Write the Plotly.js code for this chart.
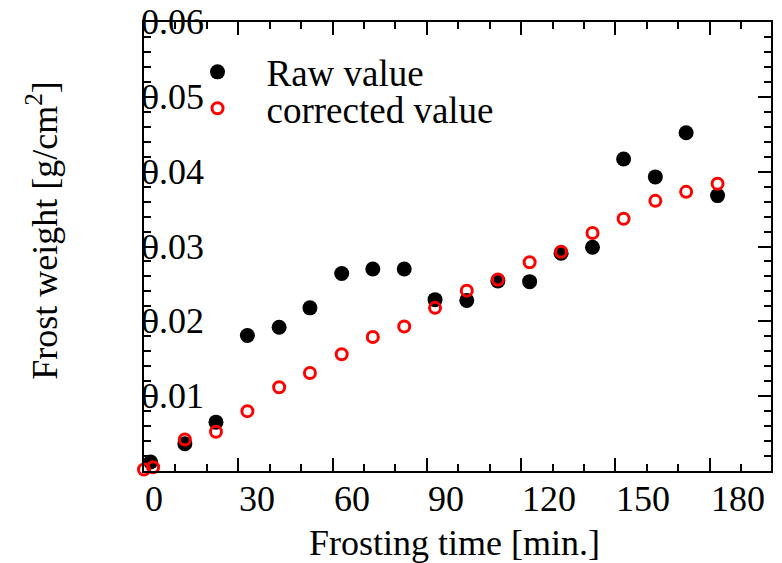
<!DOCTYPE html>
<html>
<head>
<meta charset="utf-8">
<script src="https://cdn.plot.ly/plotly-3.0.1.min.js"></script>
<style>html,body{margin:0;padding:0;background:#fff;}#chart{width:782px;height:563px;}</style>
</head>
<body>
<div id="chart"></div>
<script>
// Frosting time [min.] and frost weight [g/cm^2]
var rawTime = [2.1, 13.0, 22.9, 32.9, 43.0, 52.8, 62.9, 72.8, 82.8, 92.6, 102.7, 112.6, 122.7, 132.7, 142.7, 152.6, 162.7, 172.5, 182.5];
var rawWeight = [0.0012, 0.00365, 0.00653, 0.0181, 0.0192, 0.0218, 0.0264, 0.0270, 0.0270, 0.0229, 0.0228, 0.0254, 0.0253, 0.0291, 0.0299, 0.0417, 0.0393, 0.0452, 0.0368];
var corrTime = [0.0, 2.9, 13.0, 22.9, 32.9, 43.0, 52.8, 62.9, 72.8, 82.8, 92.6, 102.7, 112.6, 122.7, 132.7, 142.7, 152.6, 162.7, 172.5, 182.5];
var corrWeight = [0.0002, 0.0005, 0.0042, 0.00525, 0.0080, 0.0112, 0.0131, 0.0156, 0.0179, 0.0193, 0.0218, 0.0241, 0.0256, 0.0279, 0.0293, 0.0318, 0.0337, 0.0361, 0.0373, 0.0384];
var seriesNames = ["Raw value", "corrected value"];
var xTickVals = [0, 30, 60, 90, 120, 150, 180];
var xTickText = ["0", "30", "60", "90", "120", "150", "180"];
var yTickVals = [0.01, 0.02, 0.03, 0.04, 0.05, 0.06];
var yTickText = ["0.01", "0.02", "0.03", "0.04", "0.05", "0.06"];
var xTitle = "Frosting time [min.]";
var yTitle = "Frost weight [g/cm<sup>2</sup>]";

var FONT = "Liberation Serif, Times New Roman, serif";

var traces = [
  {x: rawTime, y: rawWeight, name: seriesNames[0], type: "scatter", mode: "markers",
   cliponaxis: false, legend: "legend",
   marker: {symbol: "circle", size: 15, color: "#000000"}},
  {x: corrTime, y: corrWeight, name: seriesNames[1], type: "scatter", mode: "markers",
   cliponaxis: false, legend: "legend2",
   marker: {symbol: "circle-open", size: 11, color: "#ff0000", line: {width: 3, color: "#ff0000"}}}
];

var annotations = [];
xTickVals.forEach(function (v, i) {
  annotations.push({x: v, xref: "x", y: 0, yref: "paper", yanchor: "top", xanchor: "left",
    yshift: -6, xshift: -1, text: xTickText[i], showarrow: false,
    font: {family: FONT, size: 36, color: "#000"}});
});
yTickVals.forEach(function (v, i) {
  annotations.push({x: 0, xref: "paper", y: v, yref: "y", yanchor: "middle", xanchor: "left",
    xshift: -5, text: yTickText[i], showarrow: false,
    font: {family: FONT, size: 36, color: "#000"}});
});
annotations.push({x: 0.495, xref: "paper", y: 0, yref: "paper", yanchor: "middle", xanchor: "center",
  yshift: -72, text: xTitle, showarrow: false, font: {family: FONT, size: 36, color: "#000"}});
annotations.push({x: 0, xref: "paper", y: 0.535, yref: "paper", xanchor: "center", yanchor: "middle",
  xshift: -101, textangle: -90, text: yTitle, showarrow: false, font: {family: FONT, size: 36, color: "#000"}});

var axisCommon = {
  showgrid: false, zeroline: false, showline: true, linecolor: "#000", linewidth: 2,
  mirror: "allticks", ticks: "inside", ticklen: 13, tickwidth: 2, tickcolor: "#000",
  showticklabels: false
};

var layout = {
  width: 782, height: 563,
  margin: {l: 144, r: 11, t: 22, b: 92},
  paper_bgcolor: "#fff", plot_bgcolor: "#fff",
  font: {family: FONT, size: 36, color: "#000"},
  showlegend: true,
  xaxis: Object.assign({}, axisCommon, {range: [0, 199.5], tick0: 0, dtick: 30,
    minor: {dtick: 10, ticks: "inside", ticklen: 7, tickwidth: 2, tickcolor: "#000"}}),
  yaxis: Object.assign({}, axisCommon, {range: [0, 0.06], tick0: 0, dtick: 0.01,
    minor: {dtick: 0.002, ticks: "inside", ticklen: 7, tickwidth: 2, tickcolor: "#000"}}),
  legend: {x: 0.0391, xanchor: "left", y: 0.888, yanchor: "middle", bgcolor: "rgba(0,0,0,0)",
    itemwidth: 88, font: {family: FONT, size: 37, color: "#000"}},
  legend2: {x: 0.0391, xanchor: "left", y: 0.807, yanchor: "middle", bgcolor: "rgba(0,0,0,0)",
    itemwidth: 88, font: {family: FONT, size: 37, color: "#000"}},
  annotations: annotations
};

Plotly.newPlot("chart", traces, layout, {staticPlot: true});
</script>
</body>
</html>
